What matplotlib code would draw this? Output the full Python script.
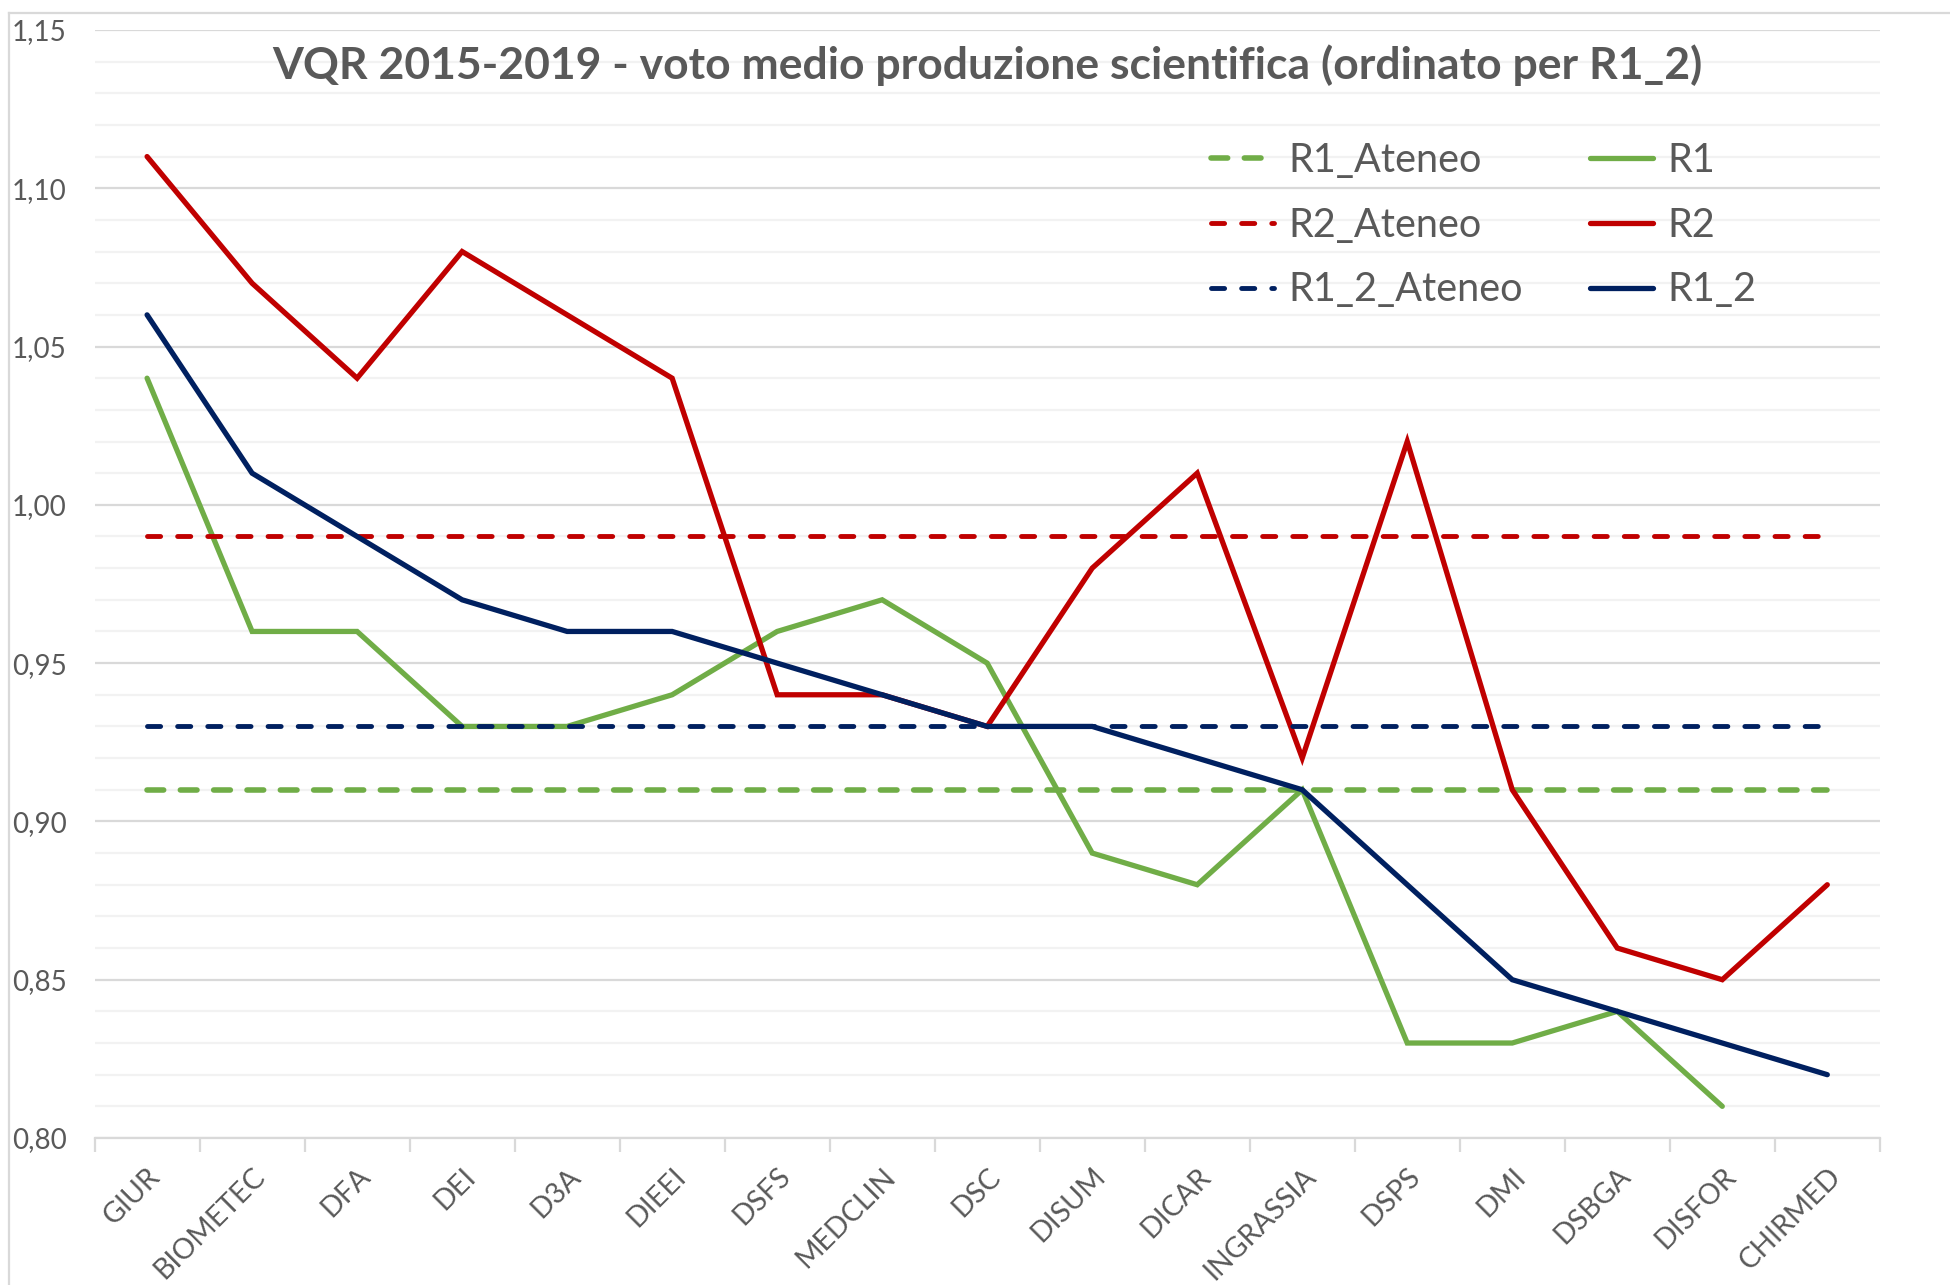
import numpy as np
import matplotlib
matplotlib.use('Agg')
import matplotlib.pyplot as plt
from matplotlib.lines import Line2D
from matplotlib.ticker import MultipleLocator, FuncFormatter

# ------------------------------------------------------------------------------
# Data
# ------------------------------------------------------------------------------
categories = ['GIUR', 'BIOMETEC', 'DFA', 'DEI', 'D3A', 'DIEEI', 'DSFS', 'MEDCLIN',
              'DSC', 'DISUM', 'DICAR', 'INGRASSIA', 'DSPS', 'DMI', 'DSBGA',
              'DISFOR', 'CHIRMED']

r1   = [1.04, 0.96, 0.96, 0.93, 0.93, 0.94, 0.96, 0.97, 0.95, 0.89, 0.88,
        0.91, 0.83, 0.83, 0.84, 0.81, np.nan]
r2   = [1.11, 1.07, 1.04, 1.08, 1.06, 1.04, 0.94, 0.94, 0.93, 0.98, 1.01,
        0.92, 1.02, 0.91, 0.86, 0.85, 0.88]
r1_2 = [1.06, 1.01, 0.99, 0.97, 0.96, 0.96, 0.95, 0.94, 0.93, 0.93, 0.92,
        0.91, 0.88, 0.85, 0.84, 0.83, 0.82]

r1_ateneo   = 0.91
r2_ateneo   = 0.99
r1_2_ateneo = 0.93

# ------------------------------------------------------------------------------
# Style
# ------------------------------------------------------------------------------
GREEN = '#70AD47'
RED   = '#C00000'
NAVY  = '#002060'
TEXT  = '#595959'

plt.rcParams['font.family'] = ['Lato', 'DejaVu Sans']

fig = plt.figure(figsize=(19.5, 12.85), dpi=100)
ax = fig.add_axes([0.0485, 0.1144, 0.9155, 0.8623])

x = np.arange(len(categories))
n = len(categories)

# --- Series (Excel order: later series on top) ---
dash_kw = dict(dash_capstyle='round', solid_capstyle='round')
l_r1a, = ax.plot(x, [r1_ateneo] * n, color=GREEN, lw=4.0, dashes=(3.0, 3.0),
                 label='R1_Ateneo', zorder=3, **dash_kw)
l_r1, = ax.plot(x, r1, color=GREEN, lw=3.8, label='R1', zorder=4,
                solid_capstyle='round', solid_joinstyle='miter')
l_r2a, = ax.plot(x, [r2_ateneo] * n, color=RED, lw=3.5, dashes=(2.7, 3.5),
                 label='R2_Ateneo', zorder=5, **dash_kw)
l_r2, = ax.plot(x, r2, color=RED, lw=3.8, label='R2', zorder=6,
                solid_capstyle='round', solid_joinstyle='miter')
l_r12a, = ax.plot(x, [r1_2_ateneo] * n, color=NAVY, lw=3.5, dashes=(2.7, 3.5),
                  label='R1_2_Ateneo', zorder=7, **dash_kw)
l_r12, = ax.plot(x, r1_2, color=NAVY, lw=3.8, label='R1_2', zorder=8,
                 solid_capstyle='round', solid_joinstyle='miter')

# --- Axes ---
ax.set_xlim(-0.5, n - 0.5)
ax.set_ylim(0.80, 1.15)
ax.yaxis.set_major_locator(MultipleLocator(0.05))
ax.yaxis.set_minor_locator(MultipleLocator(0.01))
ax.yaxis.set_major_formatter(FuncFormatter(lambda v, _: f'{v:.2f}'.replace('.', ',')))
ax.grid(axis='y', which='major', color='#D9D9D9', lw=1.6, zorder=0)
ax.grid(axis='y', which='minor', color='#F2F2F2', lw=1.6, zorder=0)
ax.set_axisbelow(True)

ax.set_xticks(x)
ax.set_xticklabels(categories, rotation=45, ha='right', rotation_mode='anchor',
                   fontsize=20.5, color=TEXT)
ax.set_xticks(np.arange(-0.5, n, 1.0), minor=True)
ax.tick_params(axis='x', which='major', length=0, pad=18)
ax.tick_params(axis='x', which='minor', length=10, width=1.6, color='#D9D9D9')
ax.tick_params(axis='y', which='both', length=0, pad=20, labelsize=20,
               labelcolor=TEXT)

for side in ['top', 'right', 'left']:
    ax.spines[side].set_visible(False)
ax.spines['bottom'].set_color('#D9D9D9')
ax.spines['bottom'].set_linewidth(1.6)

# --- Title ---
ax.set_title('VQR 2015-2019 - voto medio produzione scientifica (ordinato per R1_2)',
             fontsize=32, fontweight='bold', color=TEXT, pad=-35, y=1.0)

# --- Legend (row-major order like Excel) ---
handles = [l_r1a, l_r2a, l_r12a, l_r1, l_r2, l_r12]
leg = ax.legend(handles=handles, ncol=2, frameon=False, fontsize=28.5,
                labelcolor=TEXT, loc='upper left', bbox_to_anchor=(0.6055, 0.931),
                handlelength=1.6, handletextpad=0.35, columnspacing=1.7,
                labelspacing=0.7)

# --- Outer chart border (partially visible) ---
fig.add_artist(Line2D([0.0046, 0.0046], [0.0, 0.99], color='#D9D9D9', lw=1.6,
                      transform=fig.transFigure))
fig.add_artist(Line2D([0.0046, 1.0], [0.99, 0.99], color='#D9D9D9', lw=1.6,
                      transform=fig.transFigure))

fig.savefig('out.png', dpi=100, facecolor='white')
